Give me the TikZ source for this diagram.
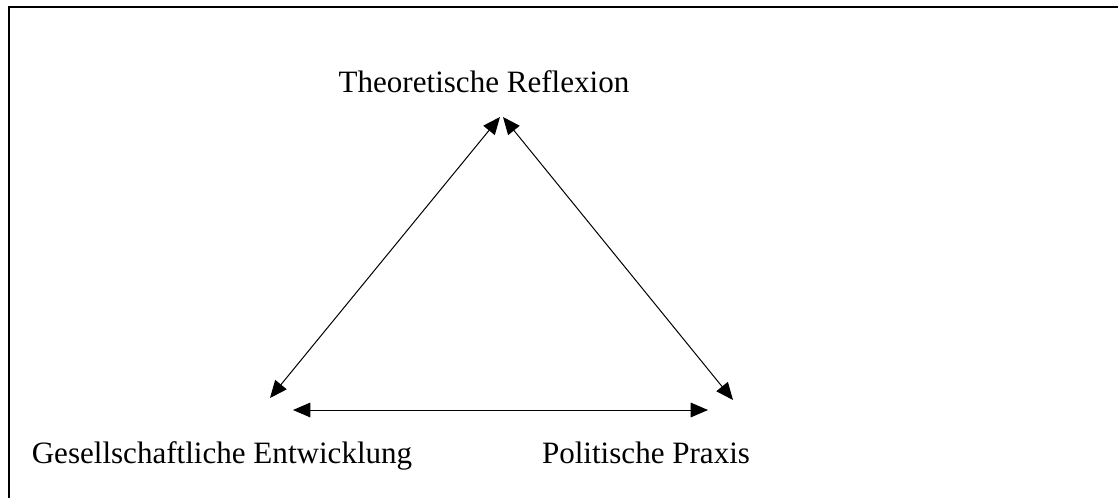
\documentclass[tikz,border=0pt]{standalone}
\usepackage{fontspec}
\setmainfont{Liberation Serif}
\usetikzlibrary{arrows.meta}

\tikzset{
  label/.style={inner sep=0pt,anchor=base,font=\fontsize{23.3}{28}\selectfont},
  link/.style={line width=0.75pt,{Triangle[length=13pt,width=11pt]}-{Triangle[length=13pt,width=11pt]}}
}

\begin{document}
\begin{tikzpicture}[x=0.75pt,y=-0.75pt]
    \useasboundingbox (0,0) rectangle (1118,497);
    \begin{scope}
      \clip (0,0) rectangle (1118,497);
      \draw[line width=1.5pt] (9,7) rectangle (1140,520);
    \end{scope}

    \node[label] (theo)   at (484,92)  {Theoretische Reflexion};
    \node[label] (gesell) at (222,463) {Gesellschaftliche Entwicklung};
    \node[label] (praxis) at (646,463) {Politische Praxis};

    % arrow ends
    \coordinate (t1) at (500,117);
    \coordinate (t2) at (503,117);
    \coordinate (g1) at (270,398);
    \coordinate (g2) at (293,410);
    \coordinate (p1) at (733,400);
    \coordinate (p2) at (708,410);

    \draw[link] (g1) -- (t1);
    \draw[link] (t2) -- (p1);
    \draw[link] (g2) -- (p2);
\end{tikzpicture}
\end{document}
